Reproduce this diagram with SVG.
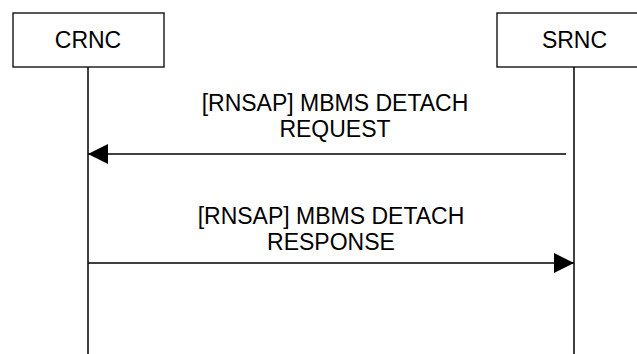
<svg xmlns="http://www.w3.org/2000/svg" width="637" height="354" viewBox="0 0 637 354">
<style>
.box{fill:#fff;stroke:#000;stroke-width:1.3}
.life{stroke:#000;stroke-width:1.5;fill:none}
.msg{stroke:#000;stroke-width:1.5;fill:none}
text{font-family:"Liberation Sans",Arial,sans-serif;font-size:23px;fill:#000;text-anchor:middle}
</style>
<defs>
<marker id="ah" viewBox="0 0 20 20" refX="20" refY="10" markerWidth="20" markerHeight="20" markerUnits="userSpaceOnUse" orient="auto">
<path d="M0,0 L20,10 L0,20 Z" fill="#000"/>
</marker>
</defs>
<rect width="637" height="354" fill="#fff"/>
<g id="CRNC">
<rect class="box" x="13" y="13" width="151" height="54"/>
<text x="88" y="48">CRNC</text>
<line class="life" x1="88" y1="67" x2="88" y2="354"/>
</g>
<g id="SRNC">
<rect class="box" x="497" y="13" width="154" height="54"/>
<text x="574.5" y="48">SRNC</text>
<line class="life" x1="574" y1="67" x2="574" y2="354"/>
</g>
<g id="connectors">
<line class="msg" x1="566" y1="154" x2="88" y2="154" marker-end="url(#ah)"/>
<text x="335" y="111">[RNSAP] MBMS DETACH</text>
<text x="335" y="137">REQUEST</text>
<line class="msg" x1="88" y1="263" x2="574" y2="263" marker-end="url(#ah)"/>
<text x="331" y="224">[RNSAP] MBMS DETACH</text>
<text x="331" y="250">RESPONSE</text>
</g>
</svg>
